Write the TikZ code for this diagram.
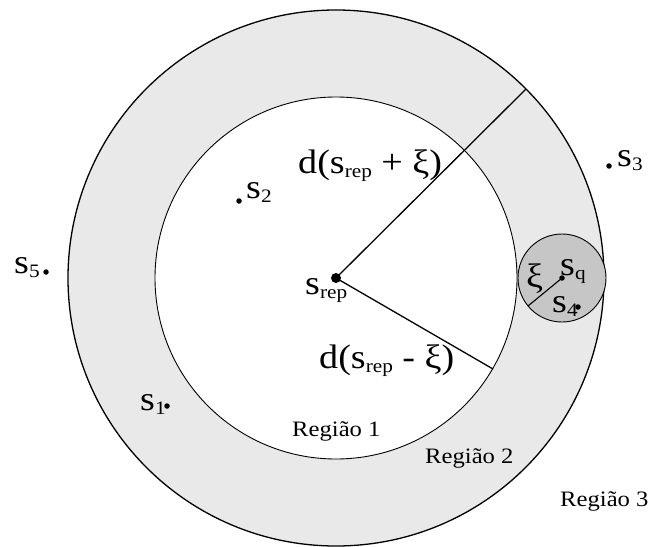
\documentclass[tikz,border=0pt]{standalone}
\usepackage{fontspec}
\setmainfont{Liberation Serif}
\newcommand\bigf{\fontsize{34}{34}\selectfont}
\newcommand\regf{\fontsize{22}{22}\selectfont}
\newcommand\lowsub[1]{\raisebox{-4pt}{\fontsize{19}{19}\selectfont #1}}
\definecolor{ring}{HTML}{E9E9E9}
\definecolor{inner}{HTML}{C6C6C6}
\tikzset{
  lbl/.style={inner sep=0pt, anchor=base west, xscale=1.12, transform shape, font=\bigf},
  reg/.style={inner sep=0pt, anchor=base west, xscale=1.12, transform shape, font=\regf},
  pt/.style={circle, fill=black, inner sep=0pt, minimum size=5.5pt},
  bigpt/.style={circle, fill=black, inner sep=0pt, minimum size=10pt},
  radius line/.style={line width=1.3pt}
}
\begin{document}
\begin{tikzpicture}[x=1pt,y=-1pt]
\useasboundingbox (0,0) rectangle (653,546);
\coordinate (c) at (336,278);
\coordinate (q) at (562,278);
\draw[line width=1.3pt, fill=ring] (c) circle[radius=268pt];
\draw[line width=0.9pt, fill=white] (c) circle[radius=181pt];
\draw[line width=0.9pt, fill=inner] (q) circle[radius=44pt];
\coordinate (p1) at (526,89);
\coordinate (p2) at (493,369);
\coordinate (p3) at (528,306);
\node[bigpt] (srep) at (c) {};
\node[pt] (sqd) at (q) {};
\draw[radius line] (srep.center) -- (p1);
\draw[radius line] (srep.center) -- (p2);
\draw[line width=1.1pt] (sqd.center) -- (p3);
% points
\node[pt] (d1) at (167,406) {};
\node[pt] (d2) at (239,201) {};
\node[pt] (d3) at (609,166) {};
\node[pt] (d4) at (578,307) {};
\node[pt] (d5) at (46,272) {};
% labels
\node[lbl] (l1) at (140,410) {s\lowsub{1}};
\node[lbl] (l2) at (246,198) {s\lowsub{2}};
\node[lbl] (l3) at (617,166) {s\lowsub{3}};
\node[lbl] (l4) at (552,312) {s\lowsub{4}};
\node[lbl] (l5) at (14,273) {s\lowsub{5}};
\node[lbl] (lq) at (560,275) {s\lowsub{q}};
\node[lbl] (lx) at (526,287) {ξ};
\node[lbl] (lrep) at (305,294) {s\lowsub{rep}};
\node[lbl] (dplus) at (298,173) {d(s\lowsub{rep} + ξ)};
\node[lbl] (dminus) at (319,368) {d(s\lowsub{rep} - ξ)};
\node[reg] (r1) at (292,436) {Região 1};
\node[reg] (r2) at (425,463) {Região 2};
\node[reg] (r3) at (560,506) {Região 3};
\end{tikzpicture}
\end{document}
